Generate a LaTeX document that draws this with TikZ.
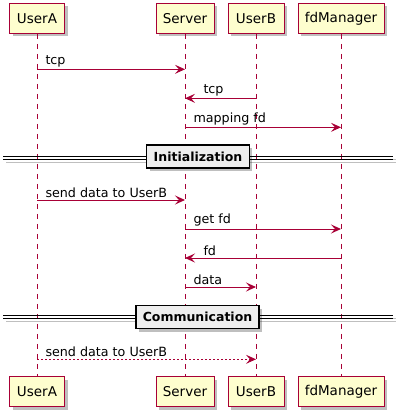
\documentclass[tikz,border=0pt]{standalone}
\usepackage{fontspec}
\setmainfont{DejaVu Sans}
\usetikzlibrary{arrows.meta,shadows}
\definecolor{pborder}{HTML}{A80036}
\definecolor{pfill}{HTML}{FEFECE}
\definecolor{dfill}{HTML}{EEEEEE}
\tikzset{
  participant/.style={draw=pborder, fill=pfill, line width=1pt, minimum height=30pt,
    inner sep=0pt, font=\fontsize{13.5}{16}\selectfont,
    drop shadow={shadow xshift=3pt, shadow yshift=-3pt, fill=black, opacity=0.25}},
  lifeline/.style={draw=pborder, line width=1pt, dash pattern=on 5pt off 5pt},
  msg/.style={draw=pborder, line width=1pt, -{Stealth[length=10pt,width=9pt,inset=4pt]}},
  dmsg/.style={msg, dash pattern=on 2pt off 2pt},
  mlabel/.style={font=\fontsize{12.7}{15}\selectfont, inner sep=1pt, anchor=south west},
  divbox/.style={draw=black, fill=dfill, line width=1.5pt, inner xsep=7pt, minimum height=23pt,
    font=\bfseries\fontsize{12.5}{15}\selectfont,
    drop shadow={shadow xshift=3pt, shadow yshift=-3pt, fill=black, opacity=0.25}},
  divline/.style={draw=black, line width=1pt},
  divshadow/.style={draw=black!25, line width=1pt},
}
\begin{document}
\begin{tikzpicture}[x=1pt,y=-1pt]
\useasboundingbox (0,0) rectangle (403,416);
% participants
\node[participant, minimum width=55pt] (At) at (37,18.3) {UserA};
\node[participant, minimum width=58pt] (St) at (185,18.3) {Server};
\node[participant, minimum width=56pt] (Bt) at (256,18.3) {UserB};
\node[participant, minimum width=86pt] (Ft) at (341,18.3) {fdManager};
\node[participant, minimum width=55pt] (Ab) at (37,391.5) {UserA};
\node[participant, minimum width=58pt] (Sb) at (185,391.5) {Server};
\node[participant, minimum width=56pt] (Bb) at (256,391.5) {UserB};
\node[participant, minimum width=86pt] (Fb) at (341,391.5) {fdManager};
% lifelines
\path[lifeline] (At.south) -- (Ab.north);
\path[lifeline] (St.south) -- (Sb.north);
\path[lifeline] (Bt.south) -- (Bb.north);
\path[lifeline] (Ft.south) -- (Fb.north);
% message points
\coordinate (a1) at (37,69.3);  \coordinate (s1) at (185,69.3);
\coordinate (b2) at (256,98.3); \coordinate (s2) at (185,98.3);
\coordinate (s3) at (185,127.3);\coordinate (f3) at (341,127.3);
\coordinate (a4) at (37,200);   \coordinate (s4) at (185,200);
\coordinate (s5) at (185,229);  \coordinate (f5) at (341,229);
\coordinate (f6) at (341,258);  \coordinate (s6) at (185,258);
\coordinate (s7) at (185,287);  \coordinate (b7) at (256,287);
\coordinate (a8) at (37,359.3); \coordinate (b8) at (256,359.3);
% messages
\draw[msg] (a1) -- node[mlabel, pos=0, xshift=7pt, yshift=1pt] {tcp} (s1);
\draw[msg] (b2) -- node[mlabel, pos=1, xshift=17pt, yshift=1pt] {tcp} (s2);
\draw[msg] (s3) -- node[mlabel, pos=0, xshift=7pt, yshift=1pt] {mapping fd} (f3);
\draw[msg] (a4) -- node[mlabel, pos=0, xshift=7pt, yshift=1pt] {send data to UserB} (s4);
\draw[msg] (s5) -- node[mlabel, pos=0, xshift=7pt, yshift=1pt] {get fd} (f5);
\draw[msg] (f6) -- node[mlabel, pos=1, xshift=17pt, yshift=1pt] {fd} (s6);
\draw[msg] (s7) -- node[mlabel, pos=0, xshift=7pt, yshift=1pt] {data} (b7);
\draw[dmsg] (a8) -- node[mlabel, pos=0, xshift=7pt, yshift=1pt] {send data to UserB} (b8);
% dividers
\foreach \yy in {157.5,317} {
  \path[divshadow] (6,\yy-1.5+3) -- (396,\yy-1.5+3);
  \path[divshadow] (6,\yy+1.5+3) -- (396,\yy+1.5+3);
  \path[divline] (3,\yy-1.5) -- (393,\yy-1.5);
  \path[divline] (3,\yy+1.5) -- (393,\yy+1.5);
}
\node[divbox] (d1) at (198,156.5) {Initialization};
\node[divbox] (d2) at (197.5,317) {Communication};
\end{tikzpicture}
\end{document}
